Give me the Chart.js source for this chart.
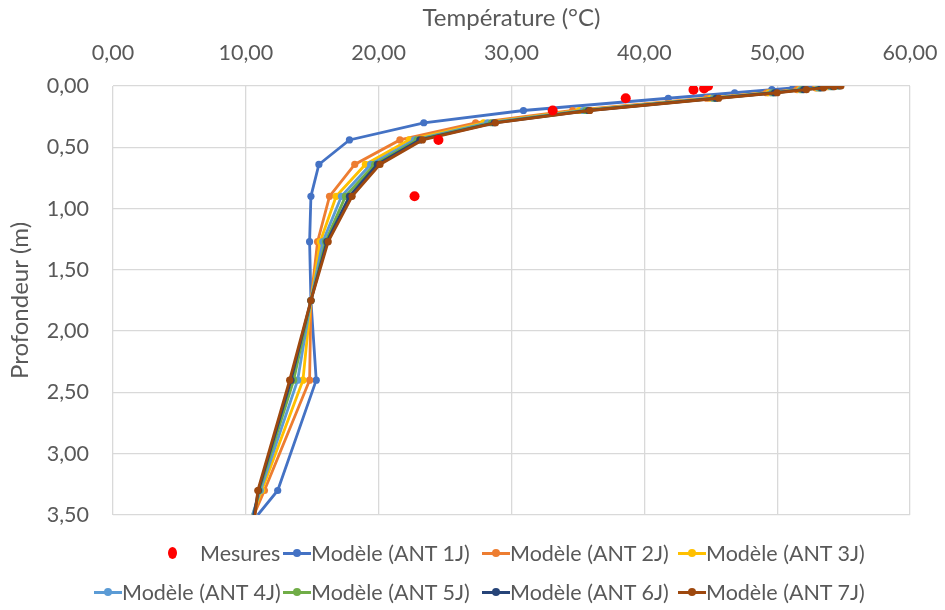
<!DOCTYPE html>
<html>
<head>
<meta charset="utf-8">
<script src="https://cdn.jsdelivr.net/npm/chart.js@4"></script>
<style>
  body { margin: 0; background: #fff; }
  #wrap { position: relative; width: 945px; height: 610px; }
  #legend { position: absolute; left: 0; top: 0; width: 945px; height: 610px; pointer-events: none;
            font-family: Lato, "Liberation Sans", sans-serif; font-size: 21.5px; color: #595959; }
  .item { position: absolute; display: flex; align-items: center; white-space: nowrap; height: 26px; }
  .sw { position: relative; width: 28px; height: 26px; }
  .sw .ln { position: absolute; left: 0; right: 0; top: 12px; height: 3px; }
  .sw .dt { position: absolute; left: 10px; top: 9px; width: 8px; height: 8px; border-radius: 50%; }
</style>
</head>
<body>
<div id="wrap">
  <canvas id="chart" width="945" height="610"></canvas>
  <div id="legend"></div>
</div>
<script>
// Profondeurs du modèle (m)
const depths = [0, 0.005, 0.015, 0.03, 0.055, 0.1, 0.2, 0.3, 0.44, 0.64, 0.9, 1.27, 1.75, 2.4, 3.3, 3.5];

// Températures modèle (°C) par durée d'antécédent
const ant1 = [52.7, 52.2, 51.2, 49.6, 46.8, 41.8, 30.9, 23.4, 17.8, 15.5, 14.9, 14.8, 14.9, 15.3, 12.4, 10.9];
const ant2 = [54.3, 53.8, 52.9, 51.5, 49.2, 44.7, 34.6, 27.3, 21.6, 18.2, 16.3, 15.4, 14.9, 14.8, 11.4, 10.6];
const ant3 = [54.4, 53.9, 53.0, 51.7, 49.4, 45.0, 35.1, 27.9, 22.3, 19.0, 16.8, 15.6, 14.9, 14.3, 11.2, 10.5];
const ant4 = [54.5, 54.0, 53.1, 51.8, 49.6, 45.2, 35.4, 28.2, 22.7, 19.4, 17.2, 15.8, 14.9, 13.9, 11.1, 10.5];
const ant5 = [54.6, 54.1, 53.2, 51.9, 49.7, 45.3, 35.6, 28.5, 22.9, 19.7, 17.5, 16.0, 14.9, 13.6, 11.0, 10.6];
const ant6 = [54.7, 54.2, 53.3, 52.0, 49.8, 45.4, 35.8, 28.7, 23.1, 19.9, 17.8, 16.1, 14.9, 13.4, 10.95, 10.6];
const ant7 = [54.8, 54.3, 53.5, 52.2, 50.0, 45.6, 35.9, 28.8, 23.3, 20.1, 18.0, 16.2, 14.9, 13.3, 10.9, 10.7];

// Mesures
const mesDepths = [0, 0.02, 0.03, 0.1, 0.2, 0.44, 0.9];
const mesTemps = [44.8, 44.5, 43.7, 38.6, 33.1, 24.5, 22.7];

const modelNames = ['Modèle (ANT 1J)', 'Modèle (ANT 2J)', 'Modèle (ANT 3J)', 'Modèle (ANT 4J)',
                    'Modèle (ANT 5J)', 'Modèle (ANT 6J)', 'Modèle (ANT 7J)'];
const modelSeries = [ant1, ant2, ant3, ant4, ant5, ant6, ant7];
const modelColors = ['#4472C4', '#ED7D31', '#FFC000', '#5B9BD5', '#70AD47', '#264478', '#9E480E'];

const fmt = v => Number(v).toFixed(2).replace('.', ',');
const FONT = 'Lato, "Liberation Sans", sans-serif';

const datasets = [{
    label: 'Mesures',
    data: mesTemps.map((t, i) => ({ x: t, y: mesDepths[i] })),
    showLine: false,
    pointRadius: 5,
    pointBackgroundColor: '#FF0000',
    pointBorderWidth: 0,
    order: -1
}];
modelSeries.forEach((s, k) => {
    datasets.push({
        label: modelNames[k],
        data: s.map((t, i) => ({ x: t, y: depths[i] })),
        showLine: true,
        borderColor: modelColors[k],
        backgroundColor: modelColors[k],
        borderWidth: 2.8,
        pointRadius: ctx => (ctx.raw && ctx.raw.y >= 3.5 ? 0 : 3.6),
        pointBorderWidth: 0,
        tension: 0,
        order: 7 - k
    });
});

new Chart(document.getElementById('chart'), {
    type: 'scatter',
    data: { datasets: datasets },
    options: {
        responsive: false,
        animation: false,
        layout: { padding: { left: 0, right: 0, top: 0, bottom: 95 } },
        plugins: { legend: { display: false }, tooltip: { enabled: false } },
        scales: {
            x: {
                type: 'linear',
                position: 'top',
                min: 0, max: 60,
                ticks: { stepSize: 10, callback: fmt, color: '#595959', font: { family: FONT, size: 21.5 }, padding: 20, maxRotation: 0 },
                grid: { color: '#D9D9D9', lineWidth: 1.3, drawTicks: false },
                border: { display: false },
                title: { display: true, text: 'Température (°C)', color: '#595959', font: { family: FONT, size: 24 }, padding: { top: 4, bottom: 0 } },
                afterFit: s => { s.height = 86; s.paddingLeft = 0; s.paddingRight = 35; }
            },
            y: {
                type: 'linear',
                reverse: true,
                min: 0, max: 3.5,
                ticks: { stepSize: 0.5, callback: fmt, color: '#595959', font: { family: FONT, size: 21.5 }, padding: 24 },
                grid: { color: '#D9D9D9', lineWidth: 1.3, drawTicks: false },
                border: { display: false },
                title: { display: true, text: 'Profondeur (m)', color: '#595959', font: { family: FONT, size: 24 }, padding: { top: 6, bottom: 2 } },
                afterFit: s => { s.width = 113; }
            }
        }
    }
});

// Légende (grille comme dans Excel)
const legend = document.getElementById('legend');
const slots = [
    { left: 160, top: 540 }, { left: 283, top: 540 }, { left: 482, top: 540 }, { left: 678, top: 540 },
    { left: 94, top: 579 }, { left: 283, top: 579 }, { left: 482, top: 579 }, { left: 678, top: 579 }
];
const items = [{ name: 'Mesures', color: '#FF0000', marker: true }]
    .concat(modelNames.map((n, k) => ({ name: n, color: modelColors[k] })));
items.forEach((it, i) => {
    const d = document.createElement('div');
    d.className = 'item';
    d.style.left = slots[i].left + 'px';
    d.style.top = slots[i].top + 'px';
    const sw = document.createElement('span');
    sw.className = 'sw';
    if (!it.marker) {
        const ln = document.createElement('span');
        ln.className = 'ln';
        ln.style.background = it.color;
        sw.appendChild(ln);
    } else {
        sw.style.width = '40px';
    }
    const dt = document.createElement('span');
    dt.className = 'dt';
    dt.style.background = it.color;
    if (it.marker) { dt.style.left = '8px'; dt.style.width = '9px'; dt.style.height = '12px'; dt.style.top = '7px'; }
    sw.appendChild(dt);
    const tx = document.createElement('span');
    tx.textContent = it.name;
    d.appendChild(sw);
    d.appendChild(tx);
    legend.appendChild(d);
});
</script>
</body>
</html>
